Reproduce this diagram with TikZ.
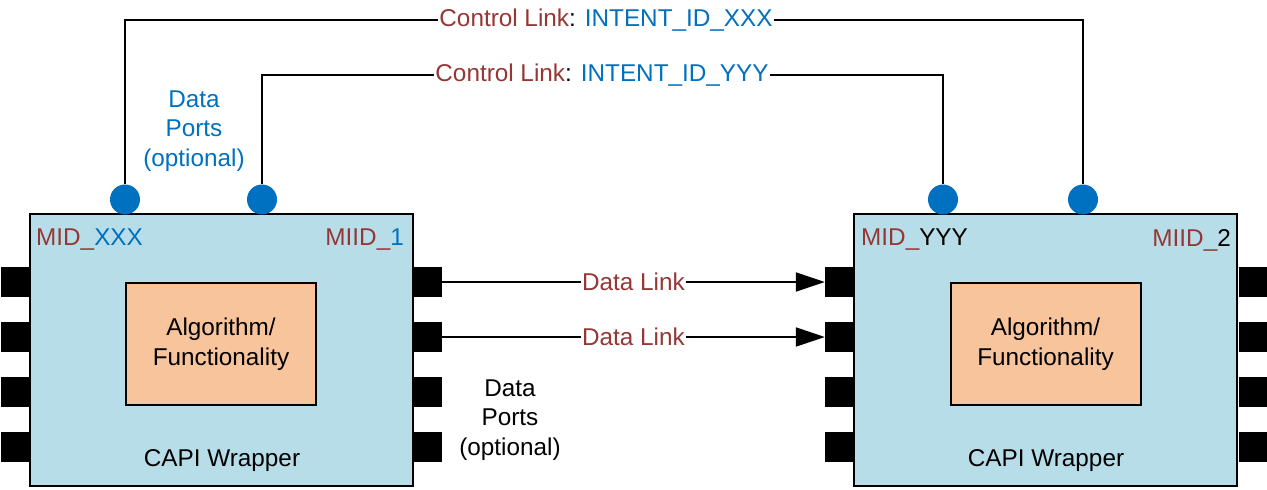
\documentclass[tikz,border=0pt]{standalone}
\usepackage{fontspec}
\setmainfont{Liberation Sans}
\usetikzlibrary{arrows.meta}
\definecolor{boxblue}{HTML}{B7DDE8}
\definecolor{algo}{HTML}{F8C49C}
\definecolor{dred}{HTML}{953735}
\definecolor{iblue}{HTML}{0070C0}
\begin{document}
\begin{tikzpicture}[x=1pt,y=-1pt,
  every node/.style={font=\fontsize{24.3}{29.5}\selectfont, inner sep=0pt},
  wrapper/.style={draw=black, line width=2pt, fill=boxblue, minimum width=383pt, minimum height=272pt},
  algobox/.style={draw=black, line width=2pt, fill=algo, minimum width=190pt, minimum height=122pt, align=center},
  port/.style={fill=black, minimum width=28pt, minimum height=30pt},
  cport/.style={circle, fill=iblue, minimum size=30pt},
  link/.style={line width=2pt},
  lbl/.style={fill=white, inner xsep=1pt, inner ysep=2pt},
  note/.style={align=center}]
\useasboundingbox (0,0) rectangle (1267,490);

% wrappers
\node[wrapper] (w1) at (221.5,350) {};
\node[wrapper] (w2) at (1045.5,350) {};
\node[algobox] (a1) at (221,344) {Algorithm/\\Functionality};
\node[algobox] (a2) at (1045.5,344) {Algorithm/\\Functionality};
\node (cw1) at (222,461) {CAPI Wrapper};
\node (cw2) at (1046,461) {CAPI Wrapper};
\node[anchor=west] (m1) at (36,240) {\textcolor{dred}{MID\_}\textcolor{iblue}{XXX}};
\node[anchor=east] (i1) at (404,240) {\textcolor{dred}{MIID\_}\textcolor{iblue}{1}};
\node[anchor=west] (m2) at (861,240) {\textcolor{dred}{MID\_}YYY};
\node[anchor=east] (i2) at (1231,240) {\textcolor{dred}{MIID\_}2};

% data ports
\foreach \y [count=\k] in {282,337,392,447} {
  \node[port] (L1l\k) at (14.5,\y) {};
  \node[port] (L1r\k) at (428,\y) {};
  \node[port] (L2l\k) at (839,\y) {};
  \node[port] (L2r\k) at (1252.5,\y) {};
}

% control ports
\node[cport] (c1) at (125,199.5) {};
\node[cport] (c2) at (262,199.5) {};
\node[cport] (c3) at (943,199.5) {};
\node[cport] (c4) at (1083,199.5) {};

% control links
\node[lbl] (ctl1) at (606,20) {\textcolor{dred}{Control Link}: \textcolor{iblue}{INTENT\_ID\_XXX}};
\node[lbl] (ctl2) at (602,75) {\textcolor{dred}{Control Link}: \textcolor{iblue}{INTENT\_ID\_YYY}};
\draw[link] (c1.north) |- (ctl1.west);
\draw[link] (ctl1.east) -| (c4.north);
\draw[link] (c2.north) |- (ctl2.west);
\draw[link] (ctl2.east) -| (c3.north);

% data links
\draw[link, -{Triangle[length=29pt,width=19pt]}] (L1r1.east) -- node[lbl, text=dred] {Data Link} (L2l1.west);
\draw[link, -{Triangle[length=29pt,width=19pt]}] (L1r2.east) -- node[lbl, text=dred] {Data Link} (L2l2.west);

% notes
\node[note, text=iblue] (n1) at (194,131) {Data\\Ports\\(optional)};
\node[note] (n2) at (510,420) {Data\\Ports\\(optional)};
\end{tikzpicture}
\end{document}
